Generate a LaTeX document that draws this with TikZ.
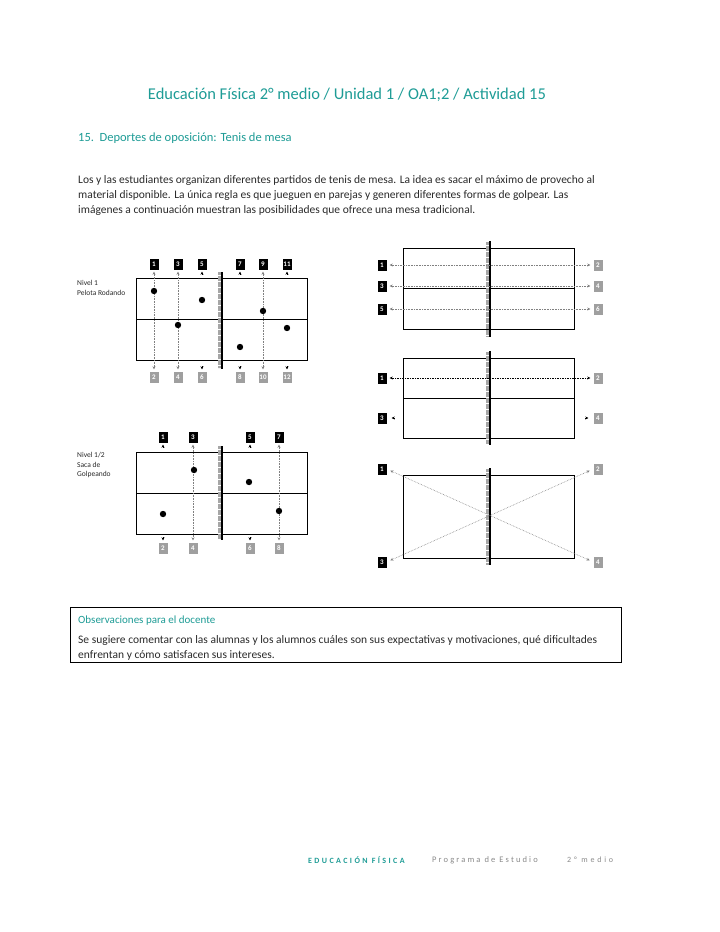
\documentclass[tikz,border=0pt]{standalone}
\usepackage{fontspec}
\setmainfont{Carlito}
\usetikzlibrary{arrows.meta,calc}
\definecolor{teal1}{HTML}{1E9C96}
\definecolor{txt}{HTML}{2A2A2A}
\definecolor{footgray}{HTML}{8A8A8A}
\tikzset{
  txtnode/.style={inner sep=0pt, anchor=west, text=txt, font=\fontsize{11.5}{13}\selectfont},
  numblack/.style={fill=black, text=white, font=\fontsize{7}{7}\selectfont\bfseries, minimum width=9pt, minimum height=11pt, inner sep=0pt},
  numgray/.style={fill=gray!75, text=white, font=\fontsize{7}{7}\selectfont\bfseries, minimum width=9pt, minimum height=11pt, inner sep=0pt},
  dline/.style={gray, densely dotted, line width=0.6pt},
  dashdot/.style={black, dash pattern=on 2pt off 1.2pt on 0.6pt off 1.2pt, line width=0.6pt},
  tips/.style={{Stealth[length=3pt,width=3pt]}-{Stealth[length=3pt,width=3pt]}},
  tip/.style={-{Stealth[length=3pt,width=3pt]}},
  table/.style={line width=0.8pt, draw=black},
  netband/.style={gray!70, line width=2.2pt, dash pattern=on 0.6pt off 0.6pt},
  netline/.style={black, line width=1.6pt},
  ball/.style={fill=black},
  lvl/.style={inner sep=0pt, anchor=west, text=txt, font=\fontsize{7.5}{9.5}\selectfont, align=left}
}
\begin{document}
\begin{tikzpicture}[x=1pt,y=-1pt]
\useasboundingbox (0,0) rectangle (720,932);
\fill[white] (0,0) rectangle (720,932);

% Title and text
\node[inner sep=0pt, text=teal1, font=\fontsize{16.5}{18}\selectfont] (title) at (347,95) {Educación Física 2° medio / Unidad 1 / OA1;2 / Actividad 15};
\node[inner sep=0pt, anchor=west, text=teal1, font=\fontsize{12.5}{14}\selectfont] (head) at (78,138) {15.\ \ Deportes de oposición: Tenis de mesa};
\node[txtnode] (p1) at (78,180) {Los y las estudiantes organizan diferentes partidos de tenis de mesa. La idea es sacar el máximo de provecho al};
\node[txtnode] (p2) at (78,195) {material disponible. La única regla es que jueguen en parejas y generen diferentes formas de golpear. Las};
\node[txtnode] (p3) at (78,210) {imágenes a continuación muestran las posibilidades que ofrece una mesa tradicional.};

% ---------- Nivel 1 ----------
\node[lvl] (lv1) at (77,288) {Nivel 1\\Pelota Rodando};
\draw[table] (136,278) rectangle (307,360);
\draw[table] (136,319) -- (307,319);
\draw[netband] (219.5,272) -- (219.5,368);
\draw[netline] (222,272) -- (222,369);
\foreach \x/\t/\b in {154/1/2,178/3/4,202/5/6,240/7/8,263/9/10,287/11/12}{
  \node[numblack] (a\t) at (\x,264) {\t};
  \node[numgray] (a\b) at (\x,377) {\b};
}
\draw[dline,tips,shorten <=2pt,shorten >=2pt] (a1.south) -- (a2.north);
\draw[dline,tips,shorten <=2pt,shorten >=2pt] (a3.south) -- (a4.north);
\draw[dline,tips,shorten <=2pt,shorten >=2pt] (a9.south) -- (a10.north);
\foreach \t/\b in {5/6,7/8,11/12}{
  \draw[tip] ([yshift=-5pt]a\t.south) -- ([yshift=-2pt]a\t.south);
  \draw[tip] ([yshift=5pt]a\b.north) -- ([yshift=2pt]a\b.north);
}
\foreach \p in {(154,291),(202,300),(263,311),(178,325),(287,328),(240,347)}{
  \fill[ball] \p circle (3.2);
}

% ---------- Nivel 1/2 ----------
\node[lvl] (lv2) at (77,465) {Nivel 1/2\\Saca de\\Golpeando};
\draw[table] (136,452) rectangle (307,534);
\draw[table] (136,493) -- (307,493);
\draw[netband] (219.5,446) -- (219.5,539);
\draw[netline] (222,446) -- (222,540);
\foreach \x/\t/\b in {163/1/2,193/3/4,250/5/6,279/7/8}{
  \node[numblack] (c\t) at (\x,437) {\t};
  \node[numgray] (c\b) at (\x,548) {\b};
}
\draw[dline,tips,shorten <=2pt,shorten >=2pt] (c3.south) -- (c4.north);
\draw[dline,tips,shorten <=2pt,shorten >=2pt] (c7.south) -- (c8.north);
\foreach \t/\b in {1/2,5/6}{
  \draw[tip] ([yshift=-5pt]c\t.south) -- ([yshift=-2pt]c\t.south);
  \draw[tip] ([yshift=5pt]c\b.north) -- ([yshift=2pt]c\b.north);
}
\foreach \p in {(163,514),(194,470),(249,482),(279,511)}{
  \fill[ball] \p circle (3.2);
}

% ---------- Right A ----------
\draw[table] (403,248) rectangle (574,329);
\draw[table] (403,288) -- (574,288);
\draw[netband] (487.5,242) -- (487.5,336);
\draw[netline] (490,241) -- (490,337);
\foreach \y/\l/\r in {265/1/2,286/3/4,309/5/6}{
  \node[numblack] (ra\l) at (382,\y) {\l};
  \node[numgray] (ra\r) at (598,\y) {\r};
  \draw[dline,tips,shorten <=3pt,shorten >=3pt] (ra\l.east) -- (ra\r.west);
}

% ---------- Right B ----------
\draw[table] (403,358) rectangle (574,438);
\draw[table] (403,398) -- (574,398);
\draw[netband] (487.5,352) -- (487.5,444);
\draw[netline] (490,351) -- (490,445);
\node[numblack] (rb1) at (382,378) {1};
\node[numgray] (rb2) at (598,378) {2};
\node[numblack] (rb3) at (382,418) {3};
\node[numgray] (rb4) at (598,418) {4};
\draw[dashdot,tips,shorten <=3pt,shorten >=3pt] (rb1.east) -- (rb2.west);
\draw[tip] ([xshift=8pt]rb3.east) -- ([xshift=5pt]rb3.east);
\draw[tip] ([xshift=-8pt]rb4.west) -- ([xshift=-5pt]rb4.west);

% ---------- Right C ----------
\draw[table] (403,475) rectangle (574,558);
\draw[netband] (487.5,469) -- (487.5,564);
\draw[netline] (490,468) -- (490,565);
\node[numblack] (rc1) at (382,469) {1};
\node[numgray] (rc2) at (598,469) {2};
\node[numblack] (rc3) at (382,562) {3};
\node[numgray] (rc4) at (598,562) {4};
\draw[dline,tips,shorten <=4pt,shorten >=4pt] (rc1.east) -- (rc4.west);
\draw[dline,tips,shorten <=4pt,shorten >=4pt] (rc3.east) -- (rc2.west);

% ---------- Observaciones ----------
\draw[line width=0.7pt] (70,607) rectangle (621,662);
\node[inner sep=0pt, anchor=west, text=teal1, font=\fontsize{11}{12}\selectfont] (obs) at (78,621) {Observaciones para el docente};
\node[txtnode] (o1) at (78,640) {Se sugiere comentar con las alumnas y los alumnos cuáles son sus expectativas y motivaciones, qué dificultades};
\node[txtnode] (o2) at (78,655) {enfrentan y cómo satisfacen sus intereses.};

% ---------- Footer ----------
\node[inner sep=0pt, anchor=west, text=teal1, font=\fontsize{8}{9}\selectfont\bfseries\addfontfeatures{LetterSpace=30}] (f1) at (308,860) {EDUCACIÓN FÍSICA};
\node[inner sep=0pt, anchor=west, text=footgray, font=\fontsize{8.5}{9}\selectfont\addfontfeatures{LetterSpace=25}] (f2) at (432,860) {Programa de Estudio};
\node[inner sep=0pt, anchor=west, text=footgray, font=\fontsize{8}{9}\selectfont\addfontfeatures{LetterSpace=35}] (f3) at (567,860) {2° medio};
\end{tikzpicture}
\end{document}
